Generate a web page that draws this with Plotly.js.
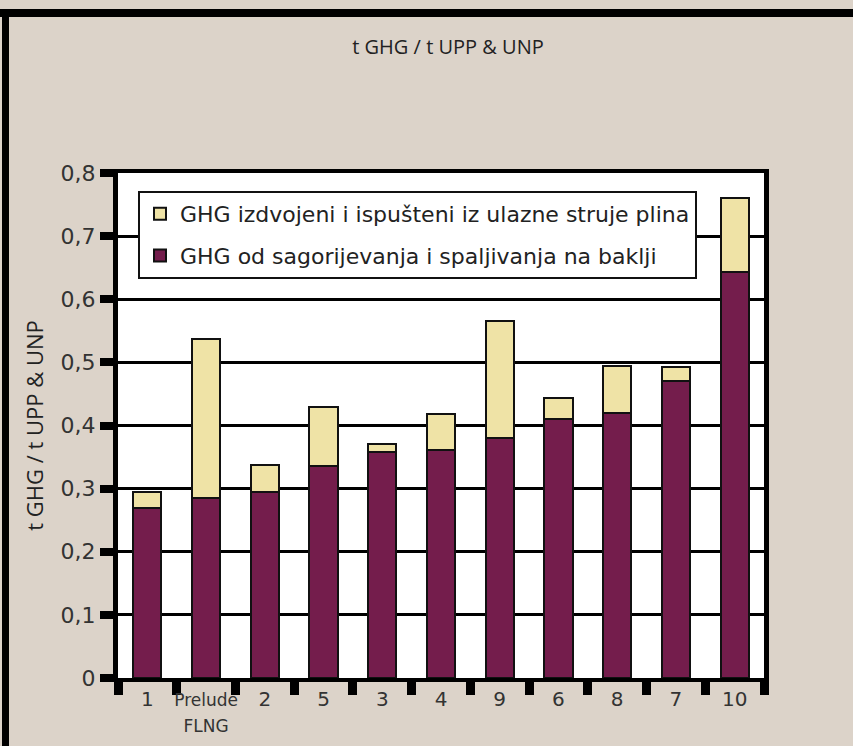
<!DOCTYPE html>
<html>
<head>
<meta charset="utf-8">
<script src="https://cdn.plot.ly/plotly-3.0.1.min.js"></script>
<style>
html,body{margin:0;padding:0;background:#dcd3c9;}
#chart{width:853px;height:746px;}
</style>
</head>
<body>
<div id="chart"></div>
<script>
// Data
var categories = ['1', 'Prelude FLNG', '2', '5', '3', '4', '9', '6', '8', '7', '10'];
var tickLabels = ['1', '<span style="font-size:17px">Prelude</span><br><span style="font-size:17px">FLNG</span>', '2', '5', '3', '4', '9', '6', '8', '7', '10'];
var combustion = [0.270, 0.285, 0.294, 0.336, 0.358, 0.361, 0.380, 0.411, 0.420, 0.470, 0.643];
var vented = [0.025, 0.252, 0.044, 0.094, 0.012, 0.058, 0.185, 0.033, 0.075, 0.023, 0.117];
var yTickVals = [0, 0.1, 0.2, 0.3, 0.4, 0.5, 0.6, 0.7, 0.8];
var yTickText = ['0', '0,1', '0,2', '0,3', '0,4', '0,5', '0,6', '0,7', '0,8'];
var seriesNames = ['GHG od sagorijevanja i spaljivanja na baklji', 'GHG izdvojeni i ispušteni iz ulazne struje plina'];

var W = 853, H = 746, mL = 118, mR = 89, mT = 173, mB = 68;
var pw = W - mL - mR, ph = H - mT - mB;
function px(x){ return (x - mL) / pw; }
function py(y){ return (H - mB - y) / ph; }

var traces = [
  {type:'bar', x:categories, y:combustion, name:seriesNames[0], legendgroup:'a', legendrank:2,
   marker:{color:'#741d4c', line:{color:'#111', width:2}}},
  {type:'bar', x:categories, y:vented, name:seriesNames[1], legendgroup:'b', legendrank:1,
   marker:{color:'#efe3a6', line:{color:'#111', width:2}}}
];

var layout = {
  width:W, height:H,
  margin:{l:mL, r:mR, t:mT, b:mB},
  paper_bgcolor:'#dcd3c9',
  plot_bgcolor:'#ffffff',
  barmode:'stack',
  bargap:0.52,
  showlegend:true,
  title:{text:'t GHG / t UPP &amp; UNP', font:{family:'Open Sans', size:20, color:'#222'},
         x:448/W, xanchor:'center', y:1-47/H, yanchor:'middle'},
  legend:{x:px(138), y:py(191), xanchor:'left', yanchor:'top',
          bgcolor:'#ffffff', bordercolor:'#111', borderwidth:2,
          font:{family:'DejaVu Sans', size:22, color:'#222'},
          traceorder:'grouped', tracegroupgap:10},
  xaxis:{type:'category', tickvals:categories, ticktext:tickLabels, tickangle:0,
         tickson:'boundaries', ticks:'outside', ticklen:13, tickwidth:9, tickcolor:'#000',
         showline:true, linecolor:'#000', linewidth:4, mirror:true,
         showgrid:false, tickfont:{family:'DejaVu Sans', size:20, color:'#333'},
         fixedrange:true},
  yaxis:{range:[0,0.8], tickvals:yTickVals, ticktext:yTickText,
         ticks:'outside', ticklen:13, tickwidth:8, tickcolor:'#000',
         showline:true, linecolor:'#000', linewidth:5, mirror:true,
         showgrid:true, gridcolor:'#000', gridwidth:3, zeroline:false,
         tickfont:{family:'DejaVu Sans', size:22, color:'#333'},
         title:{text:'t GHG / t UPP &amp; UNP', font:{family:'Open Sans', size:22, color:'#222'}, standoff:12},
         fixedrange:true},
  shapes:[
    {type:'rect', xref:'paper', yref:'paper', x0:px(0), x1:px(W), y0:py(17), y1:py(9), fillcolor:'#000', line:{width:0}, layer:'above'},
    {type:'rect', xref:'paper', yref:'paper', x0:px(2), x1:px(9), y0:py(H), y1:py(9), fillcolor:'#000', line:{width:0}, layer:'above'}
  ]
};

Plotly.newPlot('chart', traces, layout, {displayModeBar:false, staticPlot:true});
</script>
</body>
</html>
